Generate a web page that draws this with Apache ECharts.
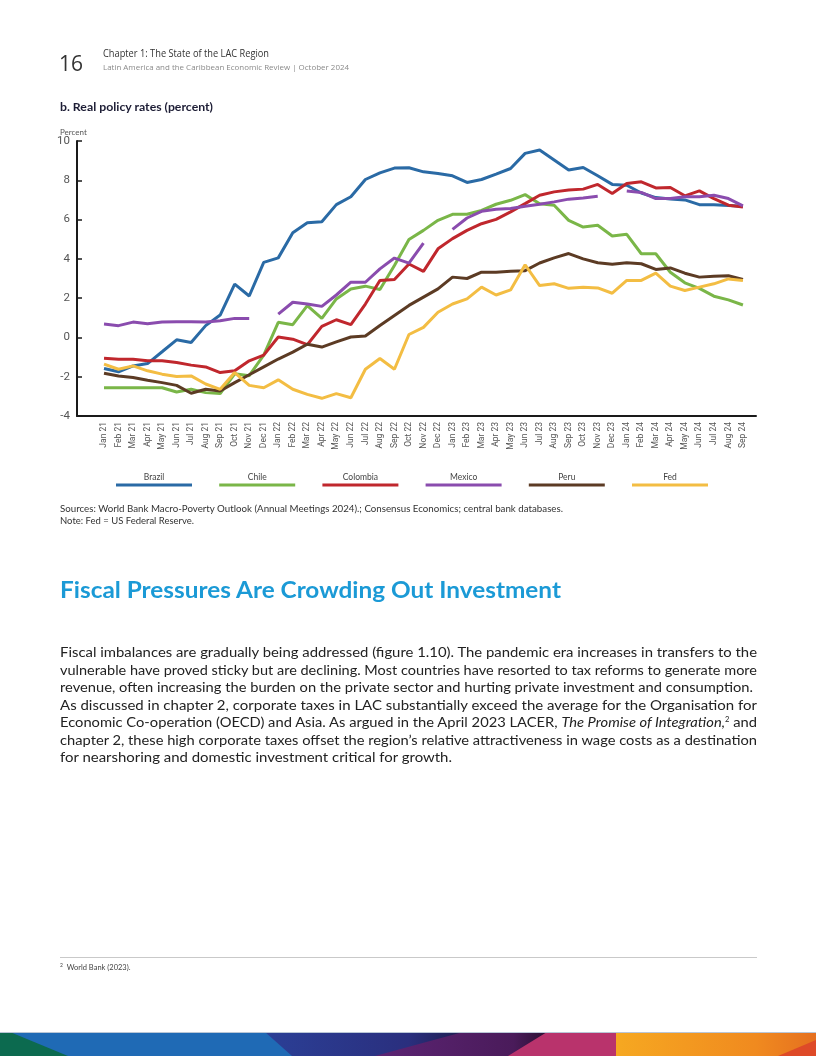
<!DOCTYPE html>
<html><head><meta charset="utf-8">
<script src="https://cdn.jsdelivr.net/npm/echarts@6.0.0/dist/echarts.min.js"></script>
<style>
html,body{margin:0;padding:0;background:#fff;width:816px;height:1056px;overflow:hidden;}
#chart{position:absolute;left:0;top:0;width:816px;height:1056px;}
.t{position:absolute;white-space:nowrap;transform-origin:0 50%;line-height:1;}
.fit{display:inline-block;}
</style></head>
<body>
<div id="chart"></div>

<div class="t" id="pg" style="left:59px;top:49px;font:400 21px 'Open Sans';color:#333;">16</div>
<div class="t fit" data-w="166" style="left:103px;top:46px;font:400 10px 'Open Sans';color:#333;">Chapter 1: The State of the LAC Region</div>
<div class="t fit" data-w="246" style="left:103px;top:61px;font:400 8px 'Open Sans';color:#8a8a8a;">Latin America and the Caribbean Economic Review | October 2024</div>
<div class="t fit" data-w="153" style="left:60px;top:100px;font:700 11px Lato;color:#1d1d35;">b. Real policy rates (percent)</div>
<div class="t" style="left:60px;top:127px;font:400 8px Lato;color:#555;">Percent</div>

<div class="t fit" data-w="503" style="left:60px;top:503px;font:400 9px Lato;color:#333;">Sources: World Bank Macro-Poverty Outlook (Annual Meetings 2024).; Consensus Economics; central bank databases.</div>
<div class="t fit" data-w="134" style="left:60px;top:515px;font:400 9px Lato;color:#333;">Note: Fed = US Federal Reserve.</div>

<div class="t fit" data-w="501" style="left:60px;top:575px;font:700 23px Lato;color:#1b9ad6;">Fiscal Pressures Are Crowding Out Investment</div>

<div class="t fit" data-w="697" style="left:60px;top:644px;font:400 13.5px Lato;color:#222;">Fiscal imbalances are gradually being addressed (figure 1.10). The pandemic era increases in transfers to the</div>
<div class="t fit" data-w="697" style="left:60px;top:661.5px;font:400 13.5px Lato;color:#222;">vulnerable have proved sticky but are declining. Most countries have resorted to tax reforms to generate more</div>
<div class="t fit" data-w="693" style="left:60px;top:679px;font:400 13.5px Lato;color:#222;">revenue, often increasing the burden on the private sector and hurting private investment and consumption.</div>
<div class="t fit" data-w="697" style="left:60px;top:696.5px;font:400 13.5px Lato;color:#222;">As discussed in chapter 2, corporate taxes in LAC substantially exceed the average for the Organisation for</div>
<div class="t fit" data-w="697" style="left:60px;top:714px;font:400 13.5px Lato;color:#222;">Economic Co-operation (OECD) and Asia. As argued in the April 2023 LACER, <i>The Promise of Integration,</i><sup style="font-size:7px;vertical-align:5px;line-height:0">2</sup> and</div>
<div class="t fit" data-w="697" style="left:60px;top:731.5px;font:400 13.5px Lato;color:#222;">chapter 2, these high corporate taxes offset the region’s relative attractiveness in wage costs as a destination</div>
<div class="t fit" data-w="392" style="left:60px;top:749px;font:400 13.5px Lato;color:#222;">for nearshoring and domestic investment critical for growth.</div>

<div style="position:absolute;left:60px;top:957px;width:697px;height:1px;background:#c9c9c9;"></div>
<div class="t" style="left:60px;top:963px;font:400 7.5px Lato;color:#444;"><sup style="font-size:5px;line-height:0">2</sup>&nbsp; World Bank (2023).</div>

<svg style="position:absolute;left:0;top:1032px" width="816" height="24" viewBox="0 0 816 24">
  <defs>
    <linearGradient id="gInd" x1="0" x2="1" y1="0" y2="0">
      <stop offset="0" stop-color="#2b3f96"/><stop offset="0.7" stop-color="#2a2f7e"/><stop offset="1" stop-color="#1c1c4a"/>
    </linearGradient>
    <linearGradient id="gPur" x1="0" x2="1" y1="0" y2="0">
      <stop offset="0" stop-color="#5c2474"/><stop offset="0.75" stop-color="#4a1b5a"/><stop offset="1" stop-color="#1e0c22"/>
    </linearGradient>
    <linearGradient id="gOr" x1="0" x2="1" y1="0" y2="0">
      <stop offset="0" stop-color="#f6a821"/><stop offset="0.7" stop-color="#f08a1f"/><stop offset="1" stop-color="#e5701f"/>
    </linearGradient>
  </defs>
  <rect x="0" y="0" width="816" height="24" fill="#1f6ab5"/>
  <polygon points="0,0 10,0 68,24 0,24" fill="#0c6a4f"/>
  <polygon points="265,0 470,0 380,24 292,24" fill="url(#gInd)"/>
  <polygon points="463,0 560,0 515,24 375,24" fill="url(#gPur)"/>
  <polygon points="547,0 616,0 616,24 508,24" fill="#b9336c"/>
  <polygon points="616,0 816,0 816,24 616,24" fill="url(#gOr)"/>
  <polygon points="816,8 816,24 778,24" fill="#de4a28"/>
  <rect x="0" y="0" width="816" height="1" fill="#b9c6d6"/>
</svg>

<script>
// ---- data ----
const months = ['Jan 21','Feb 21','Mar 21','Apr 21','May 21','Jun 21','Jul 21','Aug 21','Sep 21','Oct 21','Nov 21','Dec 21',
  'Jan 22','Feb 22','Mar 22','Apr 22','May 22','Jun 22','Jul 22','Aug 22','Sep 22','Oct 22','Nov 22','Dec 22',
  'Jan 23','Feb 23','Mar 23','Apr 23','May 23','Jun 23','Jul 23','Aug 23','Sep 23','Oct 23','Nov 23','Dec 23',
  'Jan 24','Feb 24','Mar 24','Apr 24','May 24','Jun 24','Jul 24','Aug 24','Sep 24'];
const yTicks = [-4,-2,0,2,4,6,8,10];
const seriesNames = ['Brazil','Chile','Colombia','Mexico','Peru','Fed'];
const brazil = [-1.58,-1.75,-1.45,-1.33,-0.73,-0.12,-0.26,0.60,1.14,2.71,
  2.11,3.82,4.05,5.33,5.84,5.89,6.76,7.16,8.04,8.38,
  8.62,8.64,8.43,8.35,8.23,7.89,8.04,8.31,8.60,9.37,
  9.54,9.03,8.52,8.65,8.23,7.79,7.75,7.35,7.12,7.05,
  7.00,6.76,6.76,6.72,6.68];
const chile = [-2.56,-2.56,-2.56,-2.56,-2.56,-2.78,-2.64,-2.81,-2.86,-1.85,
  -1.95,-0.90,0.77,0.65,1.62,0.97,1.96,2.47,2.61,2.44,
  3.66,4.98,5.45,5.96,6.27,6.27,6.47,6.78,6.98,7.27,
  6.81,6.73,5.96,5.62,5.71,5.16,5.25,4.26,4.26,3.32,
  2.78,2.50,2.10,1.91,1.65];
const colombia = [-1.06,-1.11,-1.11,-1.19,-1.19,-1.28,-1.41,-1.50,-1.79,-1.70,
  -1.19,-0.90,0.02,-0.09,-0.37,0.56,0.90,0.65,1.70,2.90,
  2.95,3.74,3.36,4.51,5.03,5.45,5.79,6.01,6.39,6.81,
  7.24,7.41,7.50,7.55,7.79,7.33,7.84,7.92,7.61,7.63,
  7.21,7.46,7.07,6.73,6.64];
const mexico = [0.68,0.60,0.78,0.70,0.78,0.80,0.80,0.78,0.85,0.97,
  0.97,null,1.19,1.79,1.70,1.58,2.16,2.81,2.81,3.49,
  4.04,3.78,4.80,null,5.50,6.08,6.42,6.52,6.56,6.68,
  6.78,6.90,7.04,7.10,7.19,null,7.46,7.38,7.07,7.07,
  7.16,7.16,7.24,7.07,6.70];
const peru = [-1.82,-1.96,-2.04,-2.18,-2.30,-2.44,-2.84,-2.64,-2.73,-2.30,
  -1.90,-1.50,-1.10,-0.75,-0.35,-0.49,-0.23,0.02,0.07,0.61,
  1.12,1.63,2.05,2.47,3.07,3.00,3.32,3.32,3.37,3.40,
  3.79,4.05,4.27,4.00,3.80,3.73,3.80,3.75,3.46,3.54,
  3.27,3.07,3.12,3.14,2.95];
const fed = [-1.36,-1.62,-1.45,-1.70,-1.87,-1.99,-1.96,-2.37,-2.64,-1.79,
  -2.44,-2.56,-2.16,-2.64,-2.90,-3.10,-2.86,-3.07,-1.62,-1.07,
  -1.62,0.15,0.51,1.28,1.70,1.96,2.56,2.16,2.42,3.70,
  2.64,2.73,2.50,2.56,2.52,2.25,2.90,2.90,3.27,2.61,
  2.39,2.56,2.73,2.98,2.90];
const seriesValues = [brazil, chile, colombia, mexico, peru, fed];
const colors = ['#2a6aa5','#7ab648','#c0272d','#8a4cae','#5c3b24','#f3bd43'];

// ---- chart ----
const chart = echarts.init(document.getElementById('chart'), null, {renderer:'canvas'});
const legendGraphics = [];
seriesNames.forEach((n,i)=>{
  const x0 = 116 + 103.2*i;
  legendGraphics.push({type:'rect', left:x0, top:483.5, shape:{width:76, height:3}, style:{fill:colors[i]}, silent:true});
  legendGraphics.push({type:'text', x:x0+38, y:477, style:{text:n, textAlign:'center', textVerticalAlign:'middle', fontSize:8.5, fontFamily:'Lato', fill:'#444'}, silent:true});
});
chart.setOption({
  animation:false,
  grid:{left:77, right:60, top:141, bottom:640, containLabel:false},
  xAxis:{
    type:'value', min:-1.86, max:44.9,
    splitLine:{show:false},
    axisLine:{onZero:false, lineStyle:{color:'#1a1a1a', width:2}},
    axisTick:{show:false},
    axisLabel:{customValues: months.map((m,i)=>i), formatter:(v)=>months[Math.round(v)],
      rotate:90, fontSize:8.5, fontFamily:'Roboto', color:'#555', margin:6}
  },
  yAxis:{
    type:'value', min:yTicks[0], max:yTicks[yTicks.length-1], interval:2,
    splitLine:{show:false},
    axisLine:{show:true, onZero:false, lineStyle:{color:'#1a1a1a', width:2}},
    axisTick:{show:true, inside:true, length:5, lineStyle:{color:'#1a1a1a', width:1.5}},
    axisLabel:{fontSize:11.5, fontFamily:'Roboto', color:'#555', margin:7}
  },
  series: seriesNames.map((n,i)=>({
    name:n, type:'line', showSymbol:false, smooth:false, connectNulls:false,
    data: seriesValues[i].map((v,k)=>[k, v===null ? null : v]),
    lineStyle:{color:colors[i], width:3}, itemStyle:{color:colors[i]}, z: 2+i
  })),
  graphic: legendGraphics
});

// fit text widths
document.querySelectorAll('.fit').forEach(el=>{
  const w = parseFloat(el.dataset.w);
  const r = el.getBoundingClientRect().width;
  if (r>0) el.style.transform = 'scaleX(' + (w/r) + ')';
});
</script>
</body></html>
